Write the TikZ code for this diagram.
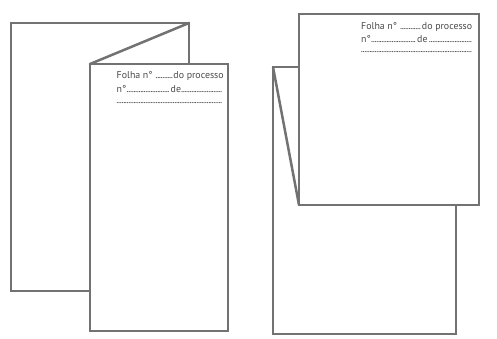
\documentclass[tikz,border=0pt]{standalone}
\usepackage{fontspec}
\setmainfont{PT Sans}
\definecolor{edge}{HTML}{727272}
\definecolor{ink}{HTML}{4A4A4A}
\newcommand\fdots{\leaders\hbox to 1.7pt{\hss.\hss}\hfill}
\begin{document}
\begin{tikzpicture}[x=1pt,y=-1pt,
  sheet/.style={draw=edge,line width=2.5pt,line join=miter},
  page/.style={sheet,fill=white},
  txt/.style={anchor=west,inner sep=0pt,text=ink,font=\fontsize{9.9}{10}\selectfont}]
\useasboundingbox (0,0) rectangle (497,338);
% ---- left figure ----
\coordinate (LB1) at (11,23);
\coordinate (LB2) at (189,291);
\coordinate (LBtr) at (189,23);
\coordinate (LF1) at (90,64);
\coordinate (LF2) at (228,331);
\draw[sheet] (LB1) rectangle (LB2);
\draw[page] (LF1) rectangle (LF2);
\draw[sheet,line cap=round] (LBtr) -- (LF1);
\node[txt] (l1) at (116.5,76) {\hbox to 107pt{Folha n°\kern2pt\fdots do processo}};
\node[txt] (l2) at (116.5,89.5) {\hbox to 107pt{\hbox to 54pt{n°\fdots}de\fdots}};
\node[txt] (l3) at (116.5,103) {\hbox to 107pt{\fdots}};
% ---- right figure ----
\coordinate (RB1) at (273,67);
\coordinate (RB2) at (456,334);
\coordinate (RF1) at (299,14);
\coordinate (RF2) at (479,205);
\coordinate (RFbl) at (299,205);
\draw[sheet] (RB1) rectangle (RB2);
\draw[sheet,line cap=round] (RB1) -- (RFbl);
\draw[page] (RF1) rectangle (RF2);
\node[txt] (r1) at (361,27) {\hbox to 111pt{Folha n°\kern2pt\fdots do processo}};
\node[txt] (r2) at (361,39.5) {\hbox to 111pt{\hbox to 56pt{n°\fdots}de\fdots}};
\node[txt] (r3) at (361,52) {\hbox to 111pt{\fdots}};
\end{tikzpicture}
\end{document}
